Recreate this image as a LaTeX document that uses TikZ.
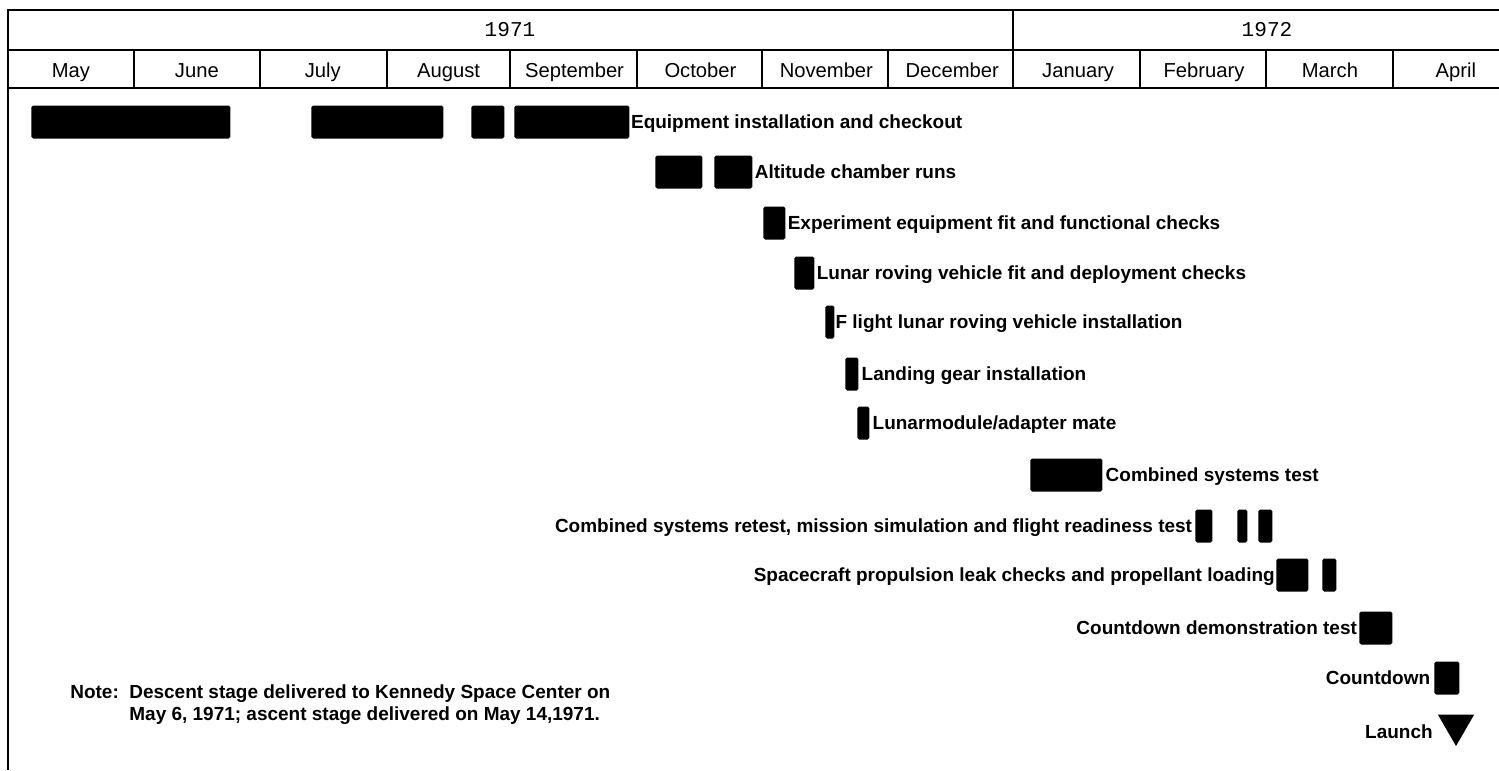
\documentclass[tikz,border=0pt]{standalone}
\usepackage{fontspec}
\setmainfont{Liberation Sans}
\newfontfamily\yearfont{Liberation Mono}
\usetikzlibrary{positioning,shapes.geometric}

\tikzset{
  bar/.style={fill=black,rounded corners=1pt,inner sep=0pt,minimum height=33*0.2mm,minimum width=#1*0.2mm,anchor=west},
  task/.style={inner sep=0pt,text height=7.8pt,text depth=0.8pt,font=\fontsize{10.8}{13}\selectfont\bfseries},
  month/.style={inner sep=0pt,text height=8.2pt,text depth=0pt,font=\fontsize{11.5}{13}\selectfont},
  year/.style={inner sep=0pt,text height=7.5pt,text depth=0pt,font=\fontsize{12}{13}\selectfont\yearfont},
  rule/.style={line width=1.2pt}
}

\begin{document}
\begin{tikzpicture}[x=0.2mm,y=-0.2mm]
\useasboundingbox (0,0) rectangle (1499,770);
% frame and header grid
\draw[rule] (8,10) -- (1499,10) (8,50) -- (1499,50) (8,88) -- (1499,88);
\draw[line width=1.7pt] (8,9) -- (8,770);
\draw[rule] (1013,10) -- (1013,88);
\foreach \x in {134,260,387,510,637,762,888,1140,1266,1393} \draw[rule] (\x,50) -- (\x,88);
\node[year] (y71) at (510,30) {1971};
\node[year] (y72) at (1267,30) {1972};
\foreach \m [count=\i] in {May,June,July,August,September,October,November,December,January,February,March,April}
  \node[month] (m\i) at ({8+125.9*(\i-0.5)},70) {\m};

% tasks
\node[bar=199] (eq1) at (31,122) {}; \node[bar=132] (eq2) at (311,122) {};
\node[bar=33] (eq3) at (471,122) {}; \node[bar=115] (eq4) at (514,122) {};
\node[task,right=0.6pt of eq4] (eqt) {Equipment installation and checkout};
\node[bar=47] (alt1) at (655,172) {}; \node[bar=38] (alt2) at (714,172) {};
\node[task,right=1pt of alt2] (altt) {Altitude chamber runs};
\node[bar=22] (exp) at (763,223) {};
\node[task,right=1pt of exp] (expt) {Experiment equipment fit and functional checks};
\node[bar=20] (lrv) at (794,273) {};
\node[task,right=1pt of lrv] (lrvt) {Lunar roving vehicle fit and deployment checks};
\node[bar=9] (flrv) at (825,322) {};
\node[task,right=0.3pt of flrv] (flrvt) {F light lunar roving vehicle installation};
\node[bar=13] (lg) at (845,374) {};
\node[task,right=1.5pt of lg] (lgt) {Landing gear installation};
\node[bar=12] (lma) at (857,423) {};
\node[task,right=1.5pt of lma] (lmat) {Lunarmodule/adapter mate};
\node[bar=72] (cst) at (1030,475) {};
\node[task,right=1.5pt of cst] (cstt) {Combined systems test};
\node[bar=17] (rt1) at (1195,526) {}; \node[bar=10] (rt2) at (1237,526) {}; \node[bar=14] (rt3) at (1258,526) {};
\node[task,left=1.5pt of rt1] (rtt) {Combined systems retest, mission simulation and flight readiness test};
\node[bar=32] (pl1) at (1276,575) {}; \node[bar=14] (pl2) at (1322,575) {};
\node[task,left=0.5pt of pl1] (plt) {Spacecraft propulsion leak checks and propellant loading};
\node[bar=33] (cdd) at (1359,628) {};
\node[task,left=1pt of cdd] (cddt) {Countdown demonstration test};
\node[bar=25] (cd) at (1434,678) {};
\node[task,left=2pt of cd] (cdt) {Countdown};
\node[regular polygon,regular polygon sides=3,shape border rotate=180,fill=black,inner sep=0pt,minimum size=42*0.2mm] (lau) at (1456,725) {};
\node[task,anchor=east] (laut) at (1433,732) {Launch};

% note
\node[anchor=north west,inner sep=0pt,font=\fontsize{10.8}{12.5}\selectfont\bfseries] (note) at (70,683) {%
  \begin{tabular}{@{}l@{\ \ }l@{}}Note: & Descent stage delivered to Kennedy Space Center on\\ & May 6, 1971; ascent stage delivered on May 14,1971.\end{tabular}};
\end{tikzpicture}
\end{document}
